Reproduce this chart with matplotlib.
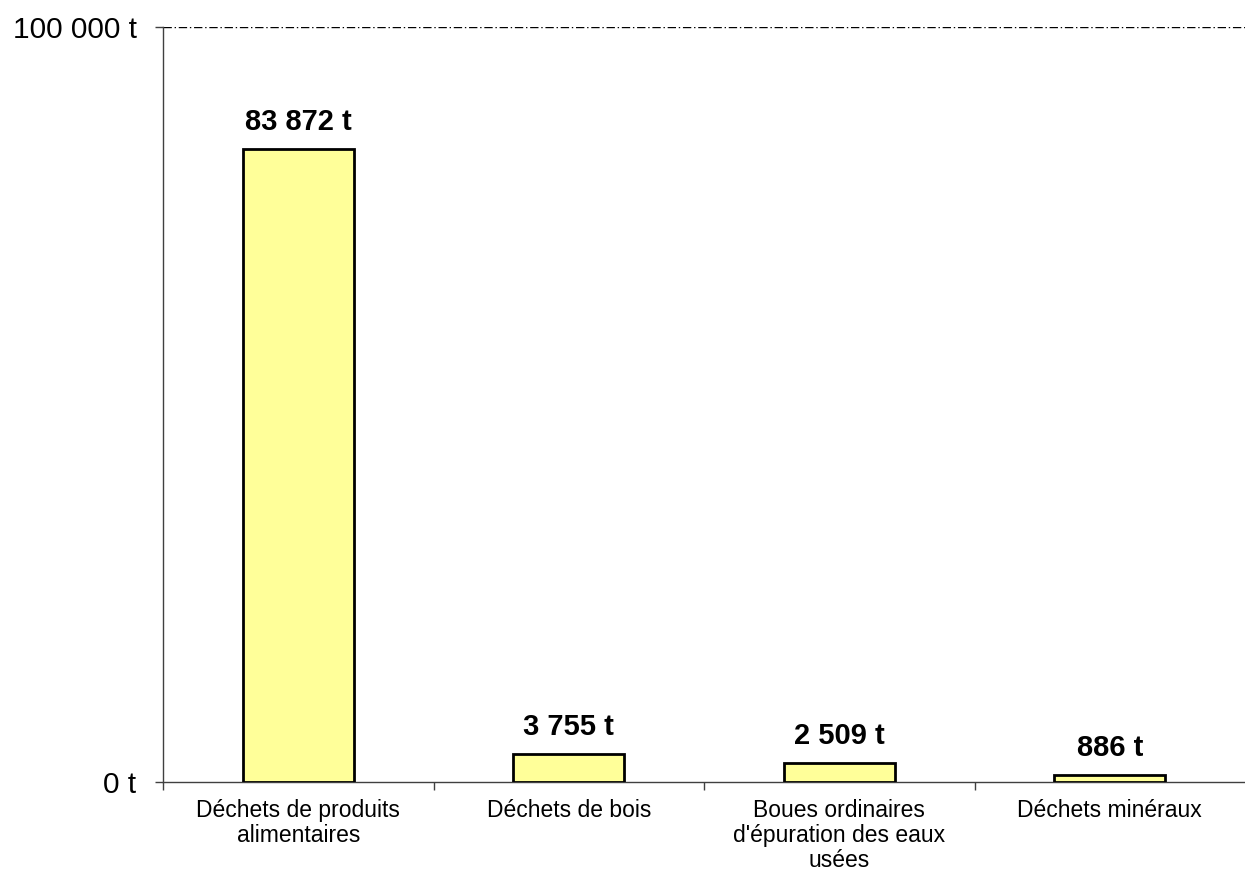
import matplotlib
matplotlib.use("Agg")
import matplotlib.pyplot as plt
from matplotlib.ticker import FixedLocator, FuncFormatter

plt.rcParams["font.family"] = ["Liberation Sans", "DejaVu Sans"]

categories = [
    "Déchets de produits\nalimentaires",
    "Déchets de bois",
    "Boues ordinaires\nd'épuration des eaux\nusées",
    "Déchets minéraux",
]
values = [83872, 3755, 2509, 886]
y_ticks = [0, 100000]


def fmt_t(v):
    return f"{int(v):,}".replace(",", " ") + " t"


fig = plt.figure(figsize=(12.45, 8.72), dpi=100)
ax = fig.add_axes([163 / 1245, 1 - 782 / 872, 1 - 163 / 1245, (782 - 27) / 872])

x = list(range(len(categories)))
ax.bar(x, values, width=0.41, color="#FFFF99", edgecolor="black", linewidth=2, zorder=3)

for xi, v in zip(x, values):
    ax.annotate(fmt_t(v), (xi, v), xytext=(0, 13), textcoords="offset pixels",
                ha="center", va="bottom", fontsize=21, fontweight="bold")

ax.set_xlim(-0.5, len(categories) - 0.5)
ax.set_ylim(0, 100000)

# y axis: only 0 and 100 000
ax.yaxis.set_major_locator(FixedLocator(y_ticks))
ax.yaxis.set_major_formatter(FuncFormatter(lambda v, p: fmt_t(v)))
ax.tick_params(axis="y", length=6, width=1, color="#404040", labelsize=21.5, pad=13)

# x axis: labels at centres, tick marks between categories
ax.set_xticks(x)
ax.set_xticklabels(categories, fontsize=16.5, linespacing=1.12)
ax.tick_params(axis="x", which="major", length=0, pad=12)
ax.set_xticks([i + 0.5 for i in range(len(categories) - 1)] + [-0.5], minor=True)
ax.tick_params(axis="x", which="minor", length=6, width=1, color="#404040")

# dash-dot line at the top of the scale
ax.axhline(100000, color="black", linewidth=1, linestyle=(0, (6, 2, 1, 2)), zorder=2)

for s in ["top", "right"]:
    ax.spines[s].set_visible(False)
for s in ["left", "bottom"]:
    ax.spines[s].set_color("#404040")
    ax.spines[s].set_linewidth(1)

fig.savefig("out.png", dpi=100)
